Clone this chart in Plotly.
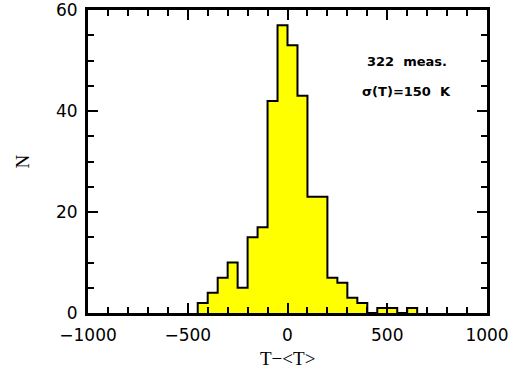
import plotly.graph_objects as go

# Histogram data
bin_left = [-450, -400, -350, -300, -250, -200, -150, -100, -50, 0, 50,
            100, 150, 200, 250, 300, 350, 400, 450, 500, 550, 600]
bin_width = 50
counts = [2, 4, 7, 10, 5, 15, 17, 42, 57, 53, 43,
          23, 23, 7, 6, 3, 2, 0, 1, 1, 0, 1]

x_ticks = [-1000, -500, 0, 500, 1000]
x_tick_labels = ["\u22121000", "\u2212500", "0", "500", "1000"]
y_ticks = [0, 20, 40, 60]

# Step outline: start at baseline, walk bins, close at baseline
xs = [bin_left[0]] + bin_left + [bin_left[-1] + bin_width, bin_left[-1] + bin_width]
ys = [0] + counts + [counts[-1], 0]

FONT = "DejaVu Sans"
SERIF = "Liberation Serif"

fig = go.Figure()
fig.add_trace(go.Scatter(
    x=xs, y=ys, mode="lines",
    line=dict(shape="hv", color="black", width=2),
    fill="tozeroy", fillcolor="#ffff00",
    hoverinfo="skip", showlegend=False,
))

axis_common = dict(
    showgrid=False, zeroline=False, automargin=False,
    showline=True, linecolor="black", linewidth=3, mirror="ticks",
    ticks="inside", ticklen=10, tickwidth=1.5, tickcolor="black",
    tickfont=dict(family=FONT, size=17, color="black"),
    ticklabeloverflow="allow",
)

fig.update_xaxes(
    range=[-1000, 1000], tickvals=x_ticks, ticktext=x_tick_labels,
    minor=dict(dtick=100, tick0=0, ticks="inside", ticklen=6, tickwidth=1.5, tickcolor="black"),
    ticklabelstandoff=5,
    **axis_common,
)
fig.update_yaxes(
    range=[0, 60], tickvals=y_ticks,
    minor=dict(dtick=5, tick0=0, ticks="inside", ticklen=6, tickwidth=1.5, tickcolor="black"),
    ticklabelstandoff=4,
    **axis_common,
)

# axis titles
fig.add_annotation(x=0.5, y=0, xref="paper", yref="paper", yshift=-45,
                   xanchor="center", yanchor="middle",
                   text="T\u2212<T>", showarrow=False,
                   font=dict(family=SERIF, size=19, color="black"))
fig.add_annotation(x=0, y=0.5, xref="paper", yref="paper", xshift=-66,
                   xanchor="center", yanchor="middle",
                   text="N", textangle=-90, showarrow=False,
                   font=dict(family=SERIF, size=19, color="black"))

fig.add_annotation(x=600, y=49.9, xref="x", yref="y", text="<b>322  meas.</b>",
                   showarrow=False, font=dict(family=FONT, size=13, color="black"))
fig.add_annotation(x=595, y=43.9, xref="x", yref="y", text="<b>\u03c3(T)=150  K</b>",
                   showarrow=False, font=dict(family=FONT, size=13, color="black"))

fig.update_layout(
    width=517, height=371,
    margin=dict(l=88, r=30, t=10, b=58),
    plot_bgcolor="white", paper_bgcolor="white",
)

fig.write_html("out.html", config={"displayModeBar": False},
               post_script="document.body.style.margin='0px';")
